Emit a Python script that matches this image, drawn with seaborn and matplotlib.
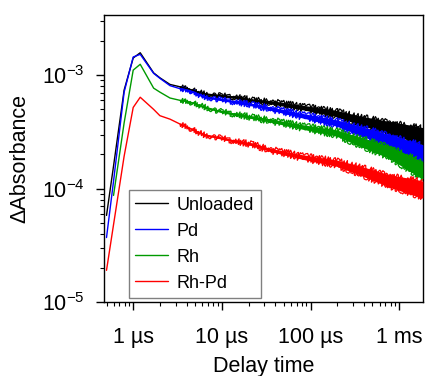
import numpy as np
import pandas as pd
import matplotlib
matplotlib.use("Agg")
import matplotlib.pyplot as plt
import matplotlib.ticker as mticker
import seaborn as sns

# delay time in microseconds
time_us = [0.5, 0.6, 0.79, 1.0, 1.2, 1.7, 2.0, 2.6, 3.4, 4.4, 6.1, 9.5, 14.7, 22,
           34.6, 81, 195, 355, 770, 1677, 1850]

unloaded = [5.8e-5, 1.58e-4, 7.4e-4, 1.42e-3, 1.58e-3, 1.05e-3, 9.5e-4, 8.3e-4, 7.9e-4,
            7.5e-4, 6.9e-4, 6.6e-4, 6.4e-4, 6.0e-4, 5.8e-4, 5.2e-4, 4.6e-4, 4.0e-4,
            3.45e-4, 2.96e-4, 2.9e-4]
pd_only = [3.7e-5, 1.16e-4, 7.1e-4, 1.45e-3, 1.53e-3, 1.04e-3, 9.4e-4, 8.1e-4, 7.6e-4,
           7.3e-4, 6.5e-4, 6.1e-4, 5.8e-4, 5.5e-4, 5.1e-4, 4.4e-4, 3.8e-4, 3.25e-4,
           2.65e-4, 2.1e-4, 2.05e-4]
rh = [np.nan, 8.7e-5, 3.8e-4, 1.11e-3, 1.25e-3, 7.7e-4, 7.1e-4, 6.3e-4, 6.0e-4,
      5.8e-4, 5.3e-4, 4.8e-4, 4.5e-4, 4.25e-4, 4.0e-4, 3.5e-4, 3.1e-4, 2.6e-4,
      2.1e-4, 1.5e-4, 1.45e-4]
rh_pd = [1.9e-5, 4.8e-5, 1.93e-4, 5.2e-4, 6.4e-4, 5.0e-4, 4.4e-4, 4.1e-4, 3.7e-4,
         3.4e-4, 3.0e-4, 2.8e-4, 2.6e-4, 2.45e-4, 2.2e-4, 1.9e-4, 1.68e-4, 1.45e-4,
         1.17e-4, 1.0e-4, 9.8e-5]

# half-width of the noise band (decades)
spread = [0, 0, 0, 0, 0, 0, 0, 0, 0, 0.005, 0.006, 0.008, 0.01, 0.012,
          0.014, 0.02, 0.028, 0.04, 0.055, 0.075, 0.075]

labels = ["Unloaded", "Pd", "Rh", "Rh-Pd"]
colors = ["#000000", "#0000ff", "#009a00", "#ff0000"]
series = [unloaded, pd_only, rh, rh_pd]

df = pd.concat([pd.DataFrame({"time": time_us, "dA": s, "sample": lab})
                for s, lab in zip(series, labels)], ignore_index=True)

sns.set_style("ticks")
plt.rcParams["font.family"] = ["Liberation Sans", "DejaVu Sans"]
plt.rcParams["mathtext.default"] = "regular"
for k in ["text.color", "axes.labelcolor", "xtick.color", "ytick.color"]:
    plt.rcParams[k] = "black"

fig = plt.figure(figsize=(4.25, 3.76), dpi=100)
ax = fig.add_axes([0.245, 0.197, 0.75, 0.763])

t = np.array(time_us)
sp = np.array(spread)
noisy = t >= 3.4
for s, c, z in zip(series, colors, [2, 3, 4, 5]):
    y = np.array(s)
    lo, hi = y / 10 ** sp, y * 10 ** sp
    ax.fill_between(t, lo, hi, color=c, lw=0, zorder=z)
    # ragged edges of the noisy trace
    for edge in (lo, hi):
        ln, = ax.plot(t[noisy], edge[noisy], color=c, lw=0.9, zorder=z)
        ln.set_sketch_params(scale=2.2, length=1.2, randomness=2.5)

sns.lineplot(data=df, x="time", y="dA", hue="sample", palette=colors,
             hue_order=labels, linewidth=1.0, ax=ax, zorder=6)

ax.set_xscale("log")
ax.set_yscale("log")
ax.set_xlim(0.47, 1850)
ax.set_ylim(1e-5, 3.4e-3)

xt = {1: "1 µs", 10: "10 µs", 100: "100 µs", 1000: "1 ms"}
ax.xaxis.set_major_locator(mticker.FixedLocator(list(xt.keys())))
ax.xaxis.set_major_formatter(mticker.FuncFormatter(lambda v, p: xt.get(int(round(v)), "")))
ax.xaxis.set_minor_locator(mticker.LogLocator(base=10, subs=np.arange(2, 10)))
ax.xaxis.set_minor_formatter(mticker.NullFormatter())
ax.yaxis.set_major_locator(mticker.LogLocator(base=10))
ax.yaxis.set_minor_locator(mticker.LogLocator(base=10, subs=np.arange(2, 10)))
ax.yaxis.set_minor_formatter(mticker.NullFormatter())

ax.tick_params(which="major", length=6, width=1, labelsize=15.5, direction="out")
ax.tick_params(which="minor", length=3, width=0.8, direction="out")
ax.tick_params(axis="x", which="major", pad=12)
ax.tick_params(axis="y", which="major", pad=8)
ax.tick_params(top=False, right=False, which="both")
for sp_ in ax.spines.values():
    sp_.set_linewidth(1)
    sp_.set_color("black")

ax.set_xlabel("Delay time", fontsize=15.5, labelpad=6)
ax.set_ylabel("ΔAbsorbance", fontsize=15.5, labelpad=8)

leg = ax.legend(loc="lower left", bbox_to_anchor=(0.078, 0.014), borderaxespad=0,
                fontsize=13, handlelength=1.8, handletextpad=0.5, labelspacing=0.5,
                borderpad=0.35, fancybox=False, framealpha=1, edgecolor="#808080")
leg.get_frame().set_linewidth(1)
for h in leg.get_lines():
    h.set_linewidth(1)

fig.savefig("out.png", dpi=100)
